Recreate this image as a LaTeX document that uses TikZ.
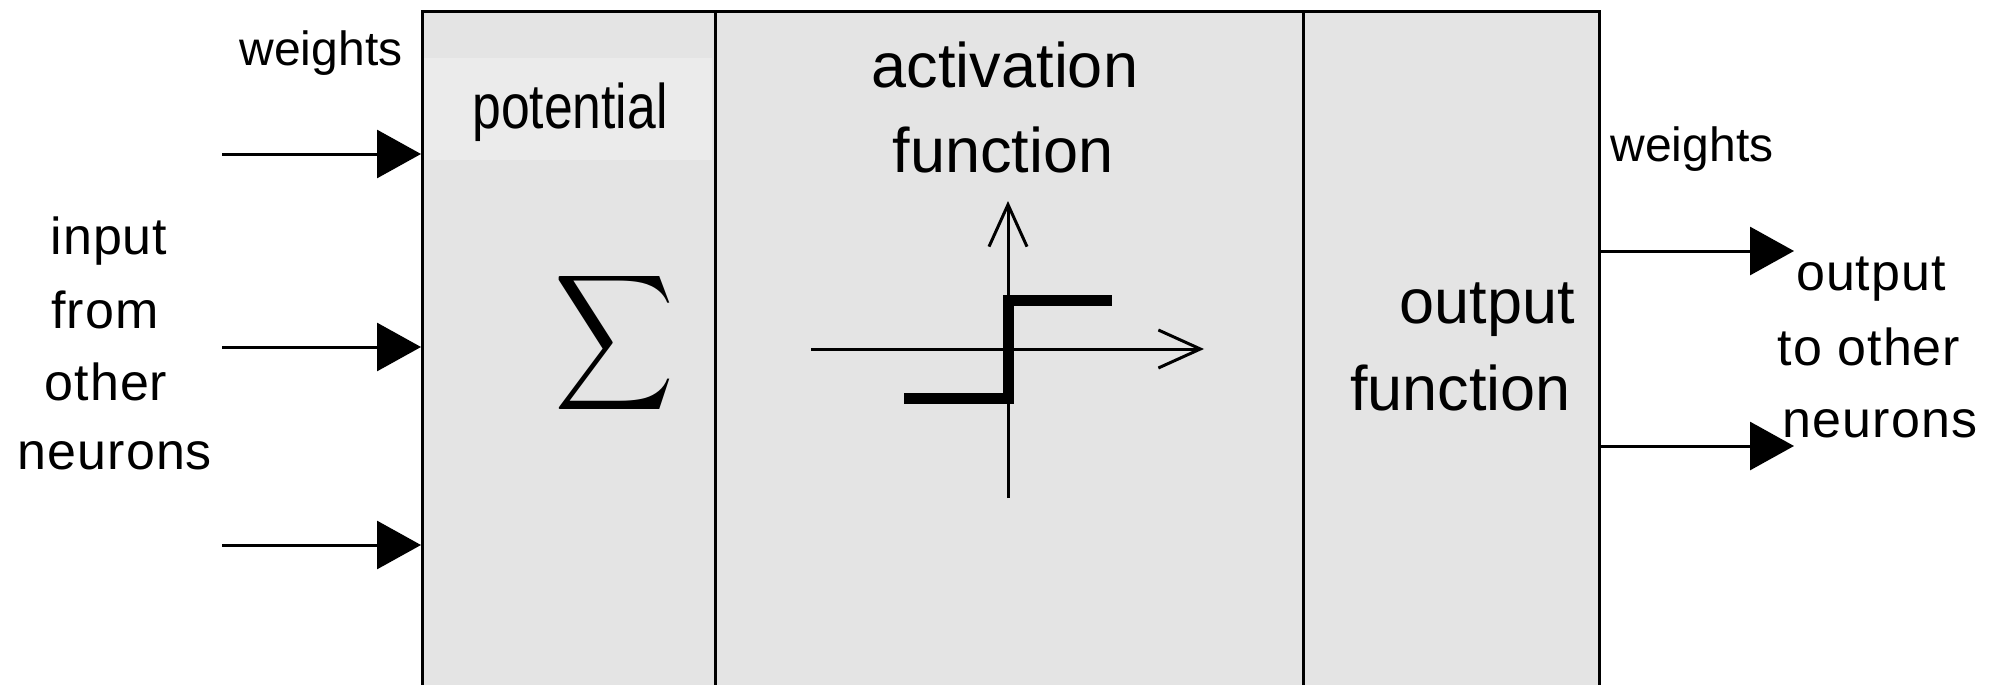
\documentclass[tikz,border=0pt]{standalone}
\usepackage{fontspec}
\setmainfont{Liberation Sans}
\newfontfamily\bmfont[LetterSpace=2]{Liberation Sans}
\usetikzlibrary{arrows.meta}
\definecolor{panel}{HTML}{E4E4E4}
\definecolor{hilite}{HTML}{EBEBEB}
\tikzset{
  panelbox/.style={draw=black, line width=3pt, fill=panel, inner sep=0pt, anchor=north west, minimum height=720pt},
  inarrow/.style={line width=3pt, -{Triangle[length=44pt,width=48pt]}},
  axis/.style={line width=3pt, -{Straight Barb[length=42pt,width=38pt,line width=3pt]}},
  stepline/.style={line width=11pt, line join=miter, line cap=butt},
  bmtext/.style={inner sep=0pt, anchor=base, font=\bmfont\fontsize{52}{60}\selectfont},
  smtext/.style={inner sep=0pt, anchor=base, font=\fontsize{48}{56}\selectfont},
  bigtext/.style={inner sep=0pt, anchor=base, font=\fontsize{63}{72}\selectfont},
}
\begin{document}
\begin{tikzpicture}[x=1pt,y=-1pt]
\useasboundingbox (0,0) rectangle (1991,685);
\clip (0,0) rectangle (1991,685);
% panels
\node[panelbox, minimum width=293pt] (pot) at (421,10) {};
\node[panelbox, minimum width=588pt] (act) at (714,10) {};
\node[panelbox, minimum width=296pt] (out) at (1302,10) {};
% potential highlight
\fill[hilite] (424,58) rectangle (712,160);
\node[inner sep=0pt, anchor=base] (potlbl) at (570,128) {\fontsize{63}{72}\selectfont\scalebox{0.82}[1]{potential}};
% sigma
\node[inner sep=0pt] (sigma) at (614.5,343) {\resizebox*{120pt}{152pt}{$\displaystyle\sum$}};
% activation
\node[bigtext] (act1) at (1005,87) {activation};
\node[bigtext] (act2) at (1003,172) {function};
\coordinate (yb) at (1008,498);
\coordinate (yt) at (1008,201);
\coordinate (xl) at (811,349);
\coordinate (xr) at (1204,349);
\draw[axis] (yb) -- (yt);
\draw[axis] (xl) -- (xr);
\coordinate (s1) at (904,398);
\coordinate (s2) at (1008,398);
\coordinate (s3) at (1008,300);
\coordinate (s4) at (1112,300);
\draw[stepline] (s1) -- (s2) -- (s3) -- (s4);
% output function
\node[bigtext, anchor=base east] (of1) at (1575,323) {output};
\node[bigtext, anchor=base east] (of2) at (1571,410) {function};
% inputs
\node[smtext] (wl) at (321,66) {weights};
\coordinate (i1) at (222,154);
\coordinate (i2) at (222,347);
\coordinate (i3) at (222,545);
\draw[inarrow] (i1) -- (i1 -| pot.west);
\draw[inarrow] (i2) -- (i2 -| pot.west);
\draw[inarrow] (i3) -- (i3 -| pot.west);
\node[bmtext] (in1) at (109,254) {input};
\node[bmtext] (in2) at (105,328) {from};
\node[bmtext] (in3) at (106,400) {other};
\node[bmtext] (in4) at (115,469) {neurons};
% outputs
\node[smtext] (wr) at (1692,161) {weights};
\coordinate (o1) at (1794,251);
\coordinate (o2) at (1794,446);
\draw[inarrow] (o1 -| out.east) -- (o1);
\draw[inarrow] (o2 -| out.east) -- (o2);
\node[bmtext] (ot1) at (1871,290) {output};
\node[bmtext] (ot2) at (1869,365) {to other};
\node[bmtext] (ot3) at (1880,437) {neurons};
\end{tikzpicture}
\end{document}
